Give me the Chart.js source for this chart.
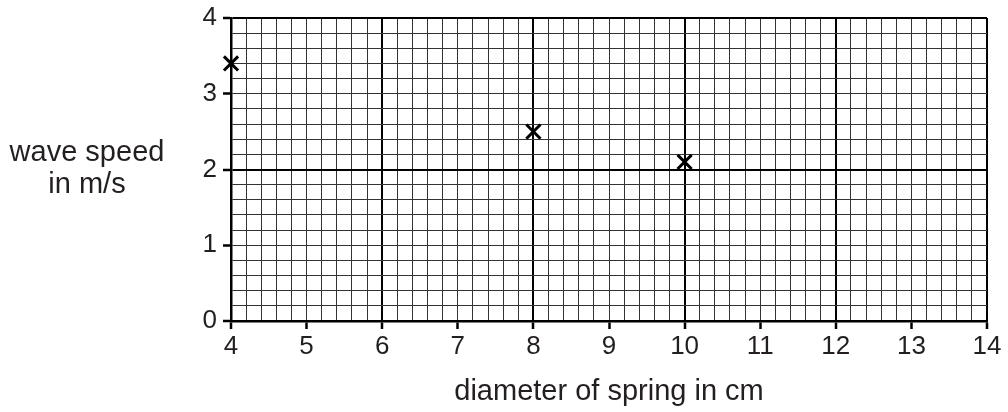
<!DOCTYPE html>
<html>
<head>
<meta charset="utf-8">
<script src="https://cdn.jsdelivr.net/npm/chart.js@4/dist/chart.umd.min.js"></script>
<style>
  html, body { margin: 0; padding: 0; background: #fff; }
  #chart { display: block; }
</style>
</head>
<body>
<canvas id="chart" width="1008" height="412"></canvas>
<script>
// measured points
const diameters = [4, 8, 10];
const waveSpeeds = [3.4, 2.5, 2.1];

const xTickLabels = ['4', '5', '6', '7', '8', '9', '10', '11', '12', '13', '14'];
const yTickLabels = ['0', '1', '2', '3', '4'];
const xTitle = 'diameter of spring in cm';
const yTitle = ['wave speed', 'in m/s'];

const ink = '#231f20';
const fontFamily = '"Liberation Sans", Arial, sans-serif';
const xMin = 4, xMax = 14, yMin = 0, yMax = 4;
const minorStep = 0.2;

function gridValues(min, max) {
  const out = [];
  const n = Math.round((max - min) / minorStep);
  for (let i = 0; i <= n; i++) out.push(+(min + i * minorStep).toFixed(4));
  return out;
}
const isWhole = v => Math.abs(v - Math.round(v)) < 1e-6;
const isMajor = v => isWhole(v) && Math.round(v) % 2 === 0;

// horizontal y title, chart.js only rotates it
const yTitlePlugin = {
  id: 'yTitle',
  afterDraw(chart) {
    const ctx = chart.ctx;
    ctx.save();
    ctx.fillStyle = ink;
    ctx.font = '29px ' + fontFamily;
    ctx.textAlign = 'center';
    ctx.textBaseline = 'alphabetic';
    ctx.fillText(yTitle[0], 87, 161);
    ctx.fillText(yTitle[1], 87, 193);
    ctx.restore();
  }
};

const tickFont = { family: fontFamily, size: 26 };

const gridOpts = {
  color: ctx => isMajor(ctx.tick.value) ? '#000' : '#333',
  lineWidth: ctx => isMajor(ctx.tick.value) ? 2 : 1,
  tickLength: 8,
  tickWidth: 2.5,
  tickColor: ctx => isWhole(ctx.tick.value) ? '#000' : 'rgba(0,0,0,0)'
};

new Chart(document.getElementById('chart'), {
  type: 'scatter',
  data: {
    datasets: [{
      data: diameters.map((d, i) => ({ x: d, y: waveSpeeds[i] })),
      pointStyle: 'crossRot',
      pointRadius: 10,
      pointHoverRadius: 10,
      borderWidth: 3,
      borderColor: '#000',
      backgroundColor: '#000',
      clip: false
    }]
  },
  options: {
    responsive: false,
    animation: false,
    events: [],
    layout: { padding: { top: 18, right: 21, left: 0, bottom: 0 } },
    plugins: { legend: { display: false }, tooltip: { enabled: false } },
    scales: {
      x: {
        type: 'linear',
        min: xMin,
        max: xMax,
        afterBuildTicks: s => { s.ticks = gridValues(xMin, xMax).map(v => ({ value: v })); },
        afterFit: s => { s.height = 91; s.paddingLeft = 0; s.paddingRight = 0; },
        ticks: {
          autoSkip: false,
          maxRotation: 0,
          padding: 2,
          color: ink,
          font: tickFont,
          callback: v => isWhole(v) ? xTickLabels[Math.round(v) - xMin] : ''
        },
        grid: gridOpts,
        border: { color: '#000', width: 2.5 },
        title: {
          display: true,
          text: xTitle,
          color: ink,
          font: { family: fontFamily, size: 29 },
          padding: { top: 0, bottom: 3 }
        }
      },
      y: {
        type: 'linear',
        min: yMin,
        max: yMax,
        afterBuildTicks: s => { s.ticks = gridValues(yMin, yMax).map(v => ({ value: v })); },
        afterFit: s => { s.width = 231; s.paddingTop = 0; s.paddingBottom = 0; },
        ticks: {
          autoSkip: false,
          padding: 6,
          color: ink,
          font: tickFont,
          callback: v => isWhole(v) ? yTickLabels[Math.round(v) - yMin] : ''
        },
        grid: gridOpts,
        border: { color: '#000', width: 2.5 }
      }
    }
  },
  plugins: [yTitlePlugin]
});
</script>
</body>
</html>
